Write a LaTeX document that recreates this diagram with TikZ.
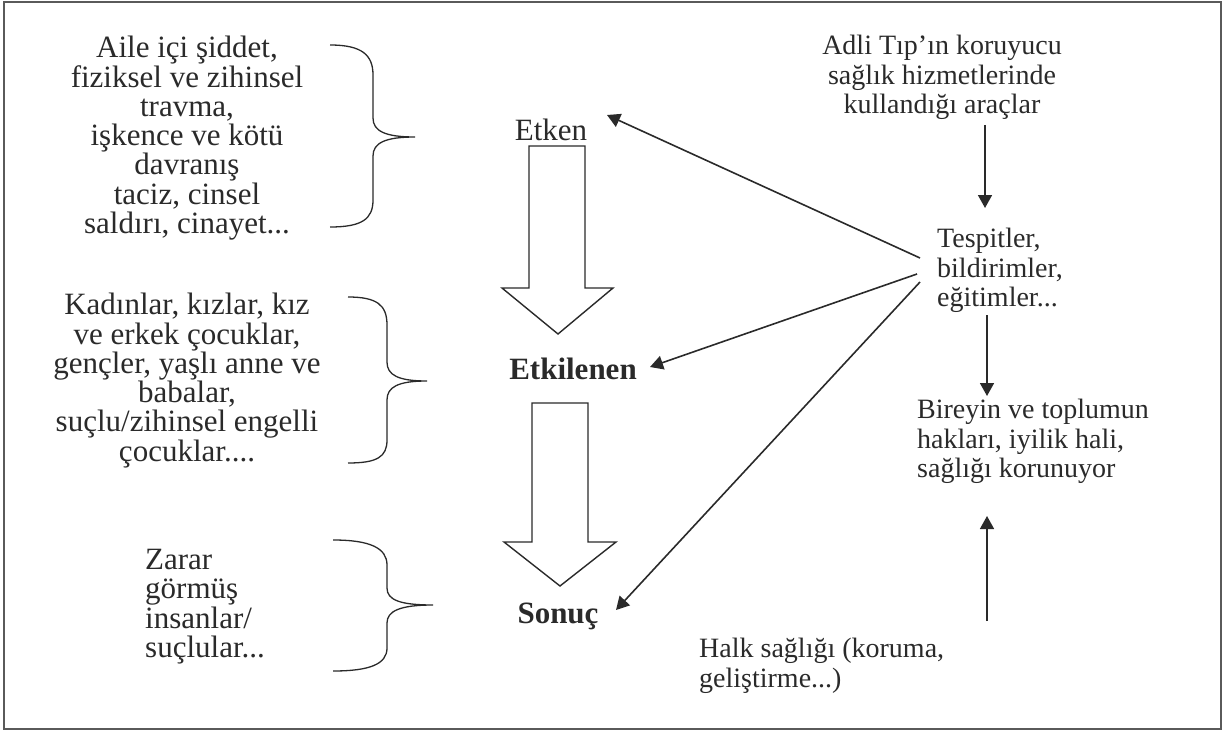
\documentclass[tikz,border=0pt]{standalone}
\usepackage{fontspec}
\setmainfont{Liberation Serif}
\usetikzlibrary{arrows.meta}
\definecolor{ink}{HTML}{2A2A2A}
\definecolor{frame}{HTML}{5A5A5A}
\begin{document}
\begin{tikzpicture}[x=1pt,y=-1pt,
  txt/.style={inner sep=0pt, text=ink, font=\fontsize{31}{29.3}\selectfont},
  ctxt/.style={txt, align=center, anchor=north},
  ltxt/.style={txt, align=left, anchor=north west},
  rtxt/.style={inner sep=0pt, text=ink, font=\fontsize{28}{29.5}\selectfont},
  btxt/.style={inner sep=0pt, text=ink, font=\fontsize{31}{29.3}\selectfont\bfseries, anchor=base},
  bigarrow/.style={draw=ink, line width=1.4pt, fill=white, line join=miter},
  brace/.style={draw=ink, line width=1.3pt},
  conn/.style={draw=ink, line width=1.6pt, -{Triangle[length=13pt,width=14pt]}}]
\useasboundingbox (0,0) rectangle (1225,733);
\draw[draw=frame, line width=1.6pt] (4,2) rectangle (1221,729);

% left texts
\node[ctxt] (t1) at (187,36) {Aile içi şiddet,\\fiziksel ve zihinsel\\travma,\\işkence ve kötü\\davranış\\taciz, cinsel\\saldırı, cinayet...};
\node[ctxt] (t2) at (187,293) {Kadınlar, kızlar, kız\\ve erkek çocuklar,\\gençler, yaşlı anne ve\\babalar,\\suçlu/zihinsel engelli\\çocuklar....};
\node[ltxt] (t3) at (145,549) {Zarar\\görmüş\\insanlar/\\suçlular...};

% braces
\draw[brace] (330,45) .. controls (362,45) and (373,55) .. (373,75) -- (373,118)
  .. controls (373,131) and (385,137) .. (415,137)
  .. controls (385,137) and (373,143) .. (373,156) -- (373,200)
  .. controls (373,219) and (362,227) .. (330,227);
\draw[brace] (348,297) .. controls (377,297) and (387,305) .. (387,325) -- (387,362)
  .. controls (387,375) and (398,381) .. (427,381)
  .. controls (398,381) and (387,387) .. (387,400) -- (387,440)
  .. controls (387,457) and (377,463) .. (348,463);
\draw[brace] (333,540) .. controls (370,540) and (387,548) .. (387,565) -- (387,588)
  .. controls (387,600) and (400,605) .. (433,605)
  .. controls (400,605) and (387,611) .. (387,623) -- (387,648)
  .. controls (387,664) and (370,671) .. (333,671);

% centre column
\node[txt, anchor=base] (etken) at (551,140) {Etken};
\node[btxt] (etkilenen) at (573,379) {Etkilenen};
\node[btxt] (sonuc) at (558,623) {Sonuç};
\draw[bigarrow] (529,146) -- (585,146) -- (585,288) -- (613,288) -- (558,334) -- (502,288) -- (529,288) -- cycle;
\draw[bigarrow] (532,403) -- (588,403) -- (588,542) -- (616,542) -- (560,586) -- (504,542) -- (532,542) -- cycle;

% right column
\node[rtxt, align=center, anchor=north] (adli) at (942,35) {Adli Tıp’ın koruyucu\\sağlık hizmetlerinde\\kullandığı araçlar};
\node[rtxt, align=left, anchor=north west] (tesp) at (937,228) {Tespitler,\\bildirimler,\\eğitimler...};
\node[rtxt, align=left, anchor=north west] (bir) at (917,399) {Bireyin ve toplumun\\hakları, iyilik hali,\\sağlığı korunuyor};
\node[rtxt, align=left, anchor=north west] (halk) at (699,638) {Halk sağlığı (koruma,\\geliştirme...)};

% connector ends
\coordinate (a1) at (985,125);
\coordinate (a2) at (985,208);
\coordinate (b1) at (987,315);
\coordinate (b2) at (987,396);
\coordinate (c1) at (987,621);
\coordinate (c2) at (987,516);
\coordinate (s1) at (920,258);
\coordinate (s2) at (917,274);
\coordinate (s3) at (920,282);
\coordinate (e1) at (607,115);
\coordinate (e2) at (650,367);
\coordinate (e3) at (616,610);

\draw[conn] (a1) -- (a2);
\draw[conn] (b1) -- (b2);
\draw[conn] (c1) -- (c2);
\draw[conn] (s1) -- (e1);
\draw[conn] (s2) -- (e2);
\draw[conn] (s3) -- (e3);
\end{tikzpicture}
\end{document}
